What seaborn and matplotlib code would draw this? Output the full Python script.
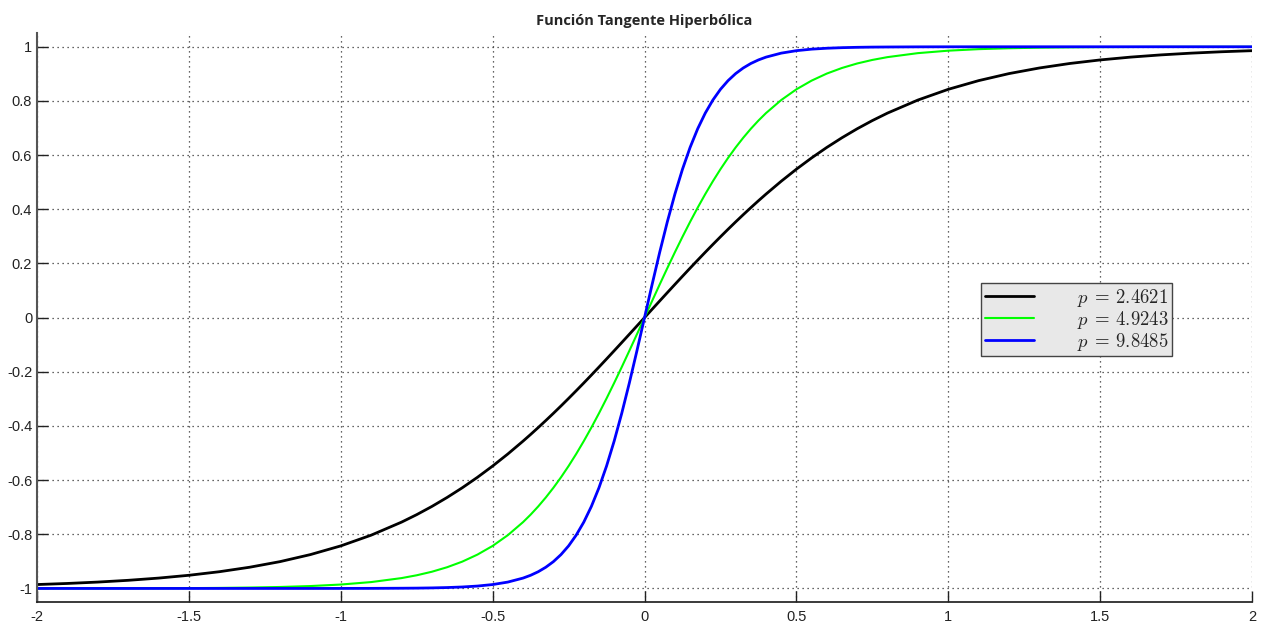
import numpy as np
import pandas as pd
import matplotlib
matplotlib.use("Agg")
import matplotlib.pyplot as plt
import seaborn as sns

# valores (mitad positiva, la curva es impar)
x_pos = [0.0, 0.025, 0.05, 0.075, 0.1, 0.125, 0.15, 0.175, 0.2, 0.225, 0.25, 0.275,
         0.3, 0.325, 0.35, 0.375, 0.4, 0.45, 0.5, 0.55, 0.6, 0.65, 0.7, 0.75, 0.8,
         0.9, 1.0, 1.1, 1.2, 1.3, 1.4, 1.5, 1.6, 1.7, 1.8, 1.9, 2.0]
y_p1_pos = [0.0, 0.0308, 0.0615, 0.0921, 0.1225, 0.1527, 0.1826, 0.2122, 0.2414, 0.2701,
            0.2984, 0.3262, 0.3534, 0.3800, 0.4060, 0.4314, 0.4561, 0.5035, 0.5480, 0.5896,
            0.6283, 0.6641, 0.6972, 0.7275, 0.7552, 0.8033, 0.8429, 0.8750, 0.9010, 0.9217,
            0.9383, 0.9514, 0.9618, 0.9700, 0.9765, 0.9816, 0.9856]
y_p2_pos = [0.0, 0.0615, 0.1225, 0.1826, 0.2414, 0.2984, 0.3534, 0.4060, 0.4561, 0.5035,
            0.5480, 0.5896, 0.6283, 0.6641, 0.6972, 0.7275, 0.7552, 0.8033, 0.8429, 0.8750,
            0.9010, 0.9217, 0.9383, 0.9514, 0.9618, 0.9765, 0.9856, 0.9912, 0.9946, 0.9967,
            0.9980, 0.9988, 0.9992, 0.9995, 0.9997, 0.9998, 0.9999]
y_p3_pos = [0.0, 0.1225, 0.2414, 0.3534, 0.4561, 0.5480, 0.6283, 0.6972, 0.7552, 0.8033,
            0.8429, 0.8750, 0.9010, 0.9217, 0.9383, 0.9514, 0.9618, 0.9765, 0.9856, 0.9912,
            0.9946, 0.9967, 0.9980, 0.9988, 0.9992, 0.9997, 0.9999, 1.0, 1.0, 1.0,
            1.0, 1.0, 1.0, 1.0, 1.0, 1.0, 1.0]
labels = [r"$p\:=\:2.4621$", r"$p\:=\:4.9243$", r"$p\:=\:9.8485$"]
colors = ["#000000", "#00ff00", "#0000ff"]
widths = [2.0, 1.5, 2.0]

x_vals = [-v for v in x_pos[:0:-1]] + x_pos
series = []
for ys in (y_p1_pos, y_p2_pos, y_p3_pos):
    series.append([-v for v in ys[:0:-1]] + ys)

sns.set_theme(style="ticks")
plt.rcParams["font.family"] = ["Liberation Sans", "DejaVu Sans"]
plt.rcParams["mathtext.fontset"] = "cm"

fig = plt.figure(figsize=(12.68, 6.27), dpi=100)
ax = fig.add_axes([0.0292, 0.0399, 0.9582, 0.9071])

for ys, lab, col, lw in zip(series, labels, colors, widths):
    df = pd.DataFrame({"x": x_vals, "y": ys})
    sns.lineplot(data=df, x="x", y="y", ax=ax, color=col, linewidth=lw, label=lab)

ax.set_xlim(-2, 2)
ax.set_ylim(-1.05, 1.05)
ax.set_xticks(np.arange(-2, 2.01, 0.5))
ax.set_yticks(np.arange(-1, 1.01, 0.2))
ax.set_xticklabels(["-2", "-1.5", "-1", "-0.5", "0", "0.5", "1", "1.5", "2"])
ax.set_yticklabels(["-1", "-0.8", "-0.6", "-0.4", "-0.2", "0", "0.2", "0.4", "0.6", "0.8", "1"])
ax.set_xlabel("")
ax.set_ylabel("")
ax.grid(True, linestyle=(0, (1, 3)), color="#333333", linewidth=0.9)
ax.tick_params(direction="in", length=8, width=1, labelsize=10.5, colors="#222222")
ax.tick_params(axis="x", pad=6)
for s in ("top", "right"):
    ax.spines[s].set_visible(False)
ax.spines["left"].set_color("#555555")
ax.spines["left"].set_linewidth(1.5)
ax.spines["bottom"].set_color("#222222")

ax.set_title("Función Tangente Hiperbólica", fontsize=10.5, fontweight="bold",
             family=["Open Sans", "DejaVu Sans"], pad=6)

leg = ax.legend(loc="upper left", bbox_to_anchor=(0.777, 0.561), fontsize=13.5,
                handlelength=2.6, handletextpad=2.3, borderpad=0.2, labelspacing=0.0,
                fancybox=False, framealpha=1, borderaxespad=0)
leg.get_frame().set_facecolor("#e8e8e8")
leg.get_frame().set_edgecolor("#444444")
leg.get_frame().set_linewidth(1.0)

fig.savefig("out.png", dpi=100)
